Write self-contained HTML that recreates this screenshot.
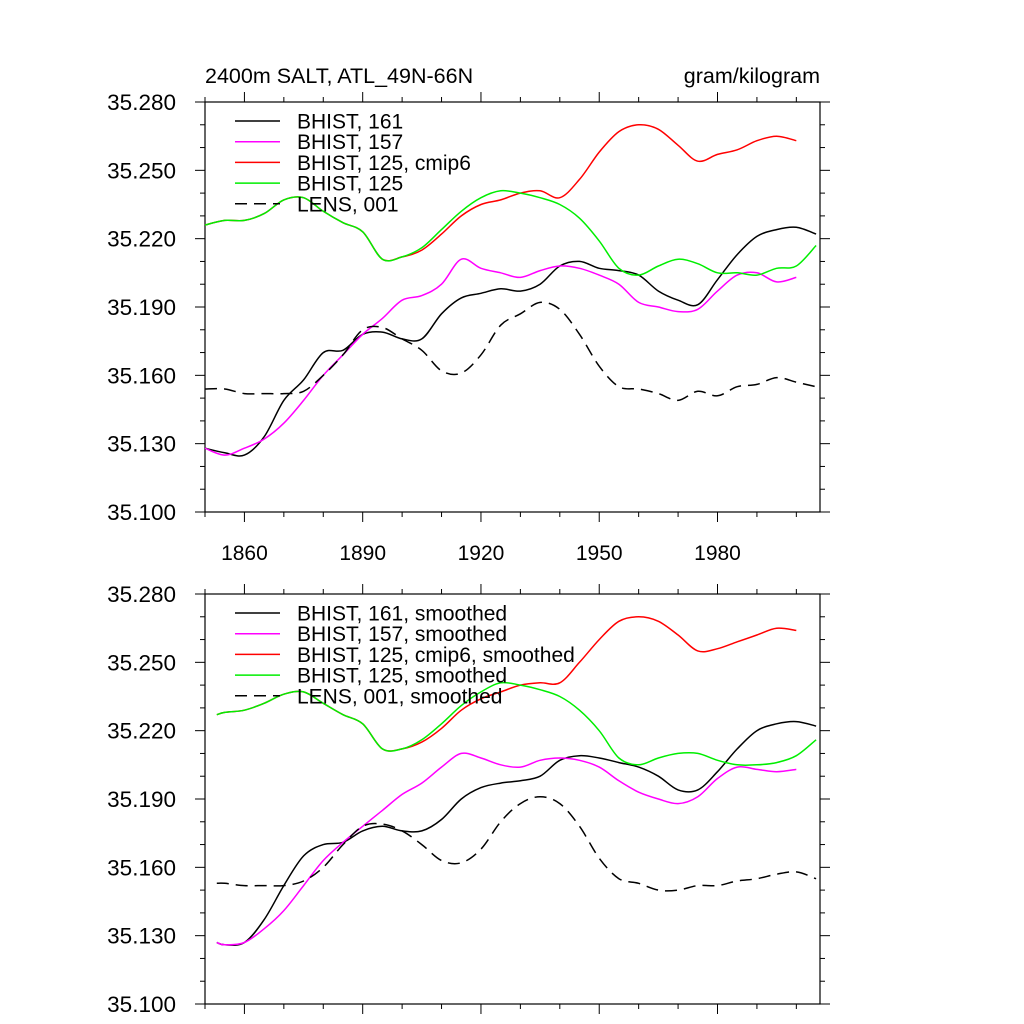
<!DOCTYPE html>
<html><head><meta charset="utf-8"><style>
body{margin:0;background:#fff}
svg{display:block;font-family:"Liberation Sans",sans-serif}
</style></head><body>
<svg id="chart" width="1024" height="1024" viewBox="0 0 1024 1024" xmlns="http://www.w3.org/2000/svg">
<text x="205" y="83" font-size="21.5">2400m SALT, ATL_49N-66N</text>
<text x="820" y="83" font-size="21.5" text-anchor="end">gram/kilogram</text>
</svg>
<script>
const yearsTop=[1850,1855,1860,1865,1870,1875,1880,1885,1890,1895,1900,1905,1910,1915,1920,1925,1930,1935,1940,1945,1950,1955,1960,1965,1970,1975,1980,1985,1990,1995,2000,2005];
const blackTop=[35.128,35.126,35.125,35.133,35.149,35.158,35.170,35.171,35.178,35.179,35.176,35.176,35.187,35.194,35.196,35.198,35.197,35.200,35.208,35.210,35.207,35.206,35.204,35.197,35.193,35.191,35.202,35.213,35.221,35.224,35.225,35.222];
const magentaTop=[35.128,35.125,35.128,35.132,35.139,35.149,35.160,35.169,35.178,35.185,35.193,35.195,35.200,35.211,35.207,35.205,35.203,35.206,35.208,35.207,35.204,35.200,35.192,35.190,35.188,35.189,35.197,35.204,35.205,35.201,35.203,null];
const redTop=[35.226,35.228,35.228,35.231,35.237,35.238,35.232,35.227,35.223,35.211,35.212,35.215,35.222,35.230,35.235,35.237,35.240,35.241,35.238,35.246,35.258,35.267,35.270,35.268,35.261,35.254,35.257,35.259,35.263,35.265,35.263,null];
const greenTop=[35.226,35.228,35.228,35.231,35.237,35.238,35.232,35.227,35.223,35.211,35.212,35.216,35.224,35.232,35.238,35.241,35.240,35.238,35.235,35.229,35.219,35.207,35.204,35.208,35.211,35.209,35.205,35.205,35.204,35.207,35.208,35.217];
const lensTop=[35.154,35.154,35.152,35.152,35.152,35.153,35.160,35.169,35.180,35.181,35.176,35.171,35.162,35.161,35.169,35.182,35.187,35.192,35.189,35.178,35.164,35.155,35.154,35.152,35.149,35.153,35.151,35.155,35.156,35.159,35.157,35.155];
const yearsBot=[1853,1855,1860,1865,1870,1875,1880,1885,1890,1895,1900,1905,1910,1915,1920,1925,1930,1935,1940,1945,1950,1955,1960,1965,1970,1975,1980,1985,1990,1995,2000,2005];
const blackBot=[35.127,35.126,35.127,35.137,35.152,35.165,35.170,35.171,35.176,35.178,35.176,35.176,35.181,35.190,35.195,35.197,35.198,35.200,35.207,35.209,35.208,35.206,35.204,35.200,35.194,35.194,35.202,35.212,35.220,35.223,35.224,35.222];
const magentaBot=[35.127,35.126,35.127,35.133,35.141,35.152,35.163,35.171,35.178,35.185,35.192,35.197,35.204,35.210,35.208,35.205,35.204,35.207,35.208,35.207,35.204,35.198,35.193,35.190,35.188,35.191,35.199,35.204,35.203,35.202,35.203,null];
const redBot=[35.227,35.228,35.229,35.232,35.236,35.237,35.232,35.227,35.223,35.212,35.212,35.215,35.221,35.229,35.234,35.237,35.240,35.241,35.241,35.250,35.260,35.268,35.270,35.268,35.262,35.255,35.256,35.259,35.262,35.265,35.264,null];
const greenBot=[35.227,35.228,35.229,35.232,35.236,35.237,35.232,35.227,35.223,35.212,35.212,35.216,35.223,35.231,35.237,35.241,35.240,35.238,35.235,35.229,35.220,35.208,35.205,35.208,35.210,35.210,35.207,35.205,35.205,35.206,35.209,35.216];
const lensBot=[35.153,35.153,35.152,35.152,35.152,35.154,35.160,35.170,35.178,35.179,35.176,35.170,35.163,35.162,35.168,35.180,35.188,35.191,35.188,35.178,35.164,35.155,35.153,35.150,35.150,35.152,35.152,35.154,35.155,35.157,35.158,35.155];
const yTicks=["35.100","35.130","35.160","35.190","35.220","35.250","35.280"];
const xTicks=[1860,1890,1920,1950,1980];
const namesTop=["BHIST, 161","BHIST, 157","BHIST, 125, cmip6","BHIST, 125","LENS, 001"];
const namesBot=["BHIST, 161, smoothed","BHIST, 157, smoothed","BHIST, 125, cmip6, smoothed","BHIST, 125, smoothed","LENS, 001, smoothed"];

const svg=document.getElementById('chart');
const NS='http://www.w3.org/2000/svg';
const X0=205,X1=820,YR0=1850,YR1=2006,V0=35.1,V1=35.28;
function mk(tag,attrs){const e=document.createElementNS(NS,tag);for(const k in attrs)e.setAttribute(k,attrs[k]);svg.appendChild(e);return e;}
function xs(yr){return X0+(yr-YR0)/(YR1-YR0)*(X1-X0);}
function smoothPath(pts){
  if(!pts.length)return '';
  let d='M'+pts[0][0].toFixed(1)+','+pts[0][1].toFixed(1);
  for(let i=0;i<pts.length-1;i++){
    const p0=pts[Math.max(0,i-1)],p1=pts[i],p2=pts[i+1],p3=pts[Math.min(pts.length-1,i+2)];
    const c1x=p1[0]+(p2[0]-p0[0])/6,c1y=p1[1]+(p2[1]-p0[1])/6;
    const c2x=p2[0]-(p3[0]-p1[0])/6,c2y=p2[1]-(p3[1]-p1[1])/6;
    d+='C'+c1x.toFixed(1)+','+c1y.toFixed(1)+' '+c2x.toFixed(1)+','+c2y.toFixed(1)+' '+p2[0].toFixed(1)+','+p2[1].toFixed(1);
  }
  return d;
}
const colors=["#000","#ff00ff","#ff0000","#00ee00","#000"];
function panel(top,years,series,names,showX,tag){
  const bot=top+410;
  const ys=v=>bot-(v-V0)/(V1-V0)*410;
  const frame=mk('rect',{x:X0,y:top,width:X1-X0,height:410,fill:'none',stroke:'#000','stroke-width':1.2});
  
  
  for(let v=0;v<=18;v++){
    const val=V0+v*0.01,y=ys(val),major=v%3===0,L=major?10:5;
    const t1=mk('line',{x1:X0-L,x2:X0,y1:y,y2:y,stroke:'#000','stroke-width':1});
    
    
    const t2=mk('line',{x1:X1,x2:X1+L,y1:y,y2:y,stroke:'#000','stroke-width':1});
    
    
  }
  yTicks.forEach(s=>{
    const t=mk('text',{x:176,y:ys(parseFloat(s))+8,'font-size':22.5,'text-anchor':'end'});
    t.textContent=s;
    
    
  });
  for(let yr=1850;yr<=2000;yr+=10){
    const x=xs(yr),major=(yr-1860)%30===0,L=major?10:5;
    const t1=mk('line',{x1:x,x2:x,y1:bot,y2:bot+L,stroke:'#000','stroke-width':1});
    
    
    const t2=mk('line',{x1:x,x2:x,y1:top-L,y2:top,stroke:'#000','stroke-width':1});
    
    
  }
  if(showX) xTicks.forEach(yr=>{
    const t=mk('text',{x:xs(yr),y:bot+48,'font-size':21,'text-anchor':'middle'});
    t.textContent=yr;
    
    
  });
  series.forEach((vals,i)=>{
    const pts=[];
    vals.forEach((v,j)=>{if(v!==null)pts.push([xs(years[j]),ys(v)]);});
    const p=mk('path',{d:smoothPath(pts),fill:'none',stroke:colors[i],'stroke-width':1.5,'stroke-linejoin':'round'});
    if(i===4)p.setAttribute('stroke-dasharray','12,7');
    
    
  });
  names.forEach((n,i)=>{
    const y=top+19+i*20.7;
    const l=mk('line',{x1:235,x2:280,y1:y,y2:y,stroke:colors[i],'stroke-width':1.5});
    if(i===4)l.setAttribute('stroke-dasharray','12,7');
    
    
    const t=mk('text',{x:297,y:y+7.5,'font-size':21});
    t.textContent=n;
    
    
  });
}
panel(102,yearsTop,[blackTop,magentaTop,redTop,greenTop,lensTop],namesTop,true,'top');
panel(594,yearsBot,[blackBot,magentaBot,redBot,greenBot,lensBot],namesBot,false,'bottom');
</script>
</body></html>
